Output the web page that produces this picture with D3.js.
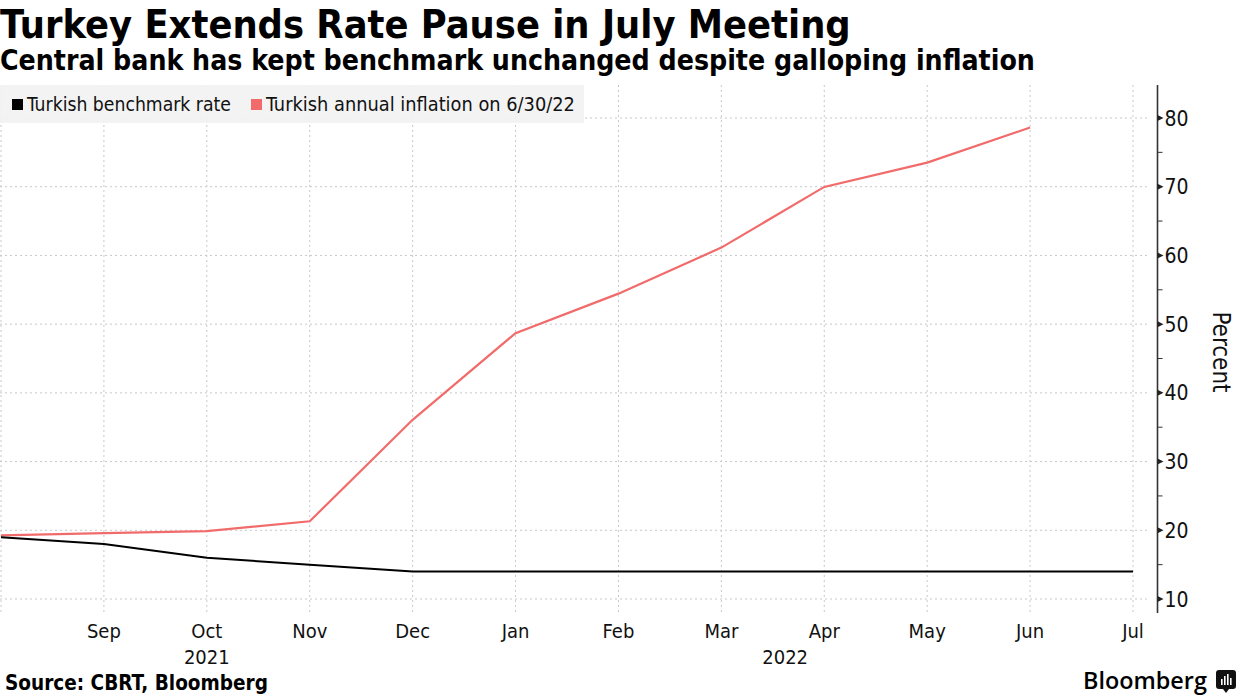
<!DOCTYPE html>
<html><head><meta charset="utf-8">
<script src="https://cdn.jsdelivr.net/npm/d3@7"></script>
<style>
body{margin:0;background:#fff;}
svg{display:block;}
text{font-family:"DejaVu Sans Condensed","DejaVu Sans",sans-serif;}
</style></head>
<body>
<svg id="chart" width="1240" height="697"></svg>
<script>
const months = ["2021-08","2021-09","2021-10","2021-11","2021-12","2022-01","2022-02","2022-03","2022-04","2022-05","2022-06","2022-07"];
const monthLabels = ["","Sep","Oct","Nov","Dec","Jan","Feb","Mar","Apr","May","Jun","Jul"];
const benchmarkRate = [19,18,16,15,14,14,14,14,14,14,14,14];
const inflation = [19.25,19.58,19.89,21.31,36.08,48.69,54.44,61.14,69.97,73.5,78.62,null];
const yTicks = [10,20,30,40,50,60,70,80];
const yMinorTicks = [15,25,35,45,55,65,75];
const yearLabels = [{label:"2021", at:"2021-10"},{label:"2022", at:"2022-03", shift:0.62}];

const svg = d3.select("#chart");
const x = d3.scalePoint().domain(months).range([1,1133]);
const y = d3.scaleLinear().domain([10,80]).range([599,118]);
const plotTop = 85, plotBottom = 613, plotRight = 1150, axisX = 1157.5;

function fit(sel, w){
  const n = sel.node(); const fs = parseFloat(sel.attr("font-size"));
  const l = n.getComputedTextLength(); sel.attr("font-size", fs*w/l);
  return sel;
}

// title
fit(svg.append("text").attr("x",0).attr("y",38).attr("font-size",36).attr("font-weight","bold").attr("fill","#000")
  .text("Turkey Extends Rate Pause in July Meeting"), 851);
fit(svg.append("text").attr("x",0).attr("y",70).attr("font-size",24).attr("font-weight","bold").attr("fill","#000")
  .text("Central bank has kept benchmark unchanged despite galloping inflation"), 1035);

// grid
const g = svg.append("g");
g.selectAll("line.h").data(yTicks).join("line")
  .attr("x1",0).attr("x2",plotRight).attr("y1",d=>y(d)).attr("y2",d=>y(d))
  .attr("stroke","#c8c8c8").attr("stroke-width",1).attr("stroke-dasharray","2,3");
g.selectAll("line.v").data(months).join("line")
  .attr("x1",d=>x(d)).attr("x2",d=>x(d)).attr("y1",plotTop).attr("y2",plotBottom)
  .attr("stroke","#c8c8c8").attr("stroke-width",1).attr("stroke-dasharray","2,3");

// legend
svg.append("rect").attr("x",0).attr("y",85).attr("width",584).attr("height",38).attr("fill","#f2f2f2").attr("opacity",0.92);
svg.append("rect").attr("x",12).attr("y",99).attr("width",11).attr("height",11).attr("fill","#000");
fit(svg.append("text").attr("x",27).attr("y",111).attr("font-size",18).attr("fill","#111").text("Turkish benchmark rate"),204);
svg.append("rect").attr("x",251).attr("y",99).attr("width",11).attr("height",11).attr("fill","#f26b6b");
fit(svg.append("text").attr("x",266).attr("y",111).attr("font-size",18).attr("fill","#111").text("Turkish annual inflation on 6/30/22"),309);

// lines
const line = d3.line().defined(d=>d[1]!=null).x(d=>x(d[0])).y(d=>y(d[1]));
svg.append("path").datum(months.map((m,i)=>[m,inflation[i]]))
  .attr("d",line).attr("fill","none").attr("stroke","#f26b6b").attr("stroke-width",2.2);
svg.append("path").datum(months.map((m,i)=>[m,benchmarkRate[i]]))
  .attr("d",line).attr("fill","none").attr("stroke","#000").attr("stroke-width",2);

// y axis
const ya = svg.append("g").attr("transform",`translate(${axisX},0)`);
ya.append("line").attr("x1",0).attr("x2",0).attr("y1",plotTop).attr("y2",plotBottom).attr("stroke","#333").attr("stroke-width",1.6);
ya.selectAll("path.tk").data(yTicks).join("path")
  .attr("d",d=>`M0,${y(d)-3}L6,${y(d)}L0,${y(d)+3}Z`).attr("fill","#222");
ya.selectAll("line.mn").data(yMinorTicks).join("line")
  .attr("x1",0).attr("x2",5).attr("y1",d=>y(d)).attr("y2",d=>y(d)).attr("stroke","#333").attr("stroke-width",1);
ya.selectAll("text").data(yTicks).join("text")
  .attr("x",7).attr("y",d=>y(d)).attr("dy","0.36em").attr("font-size",21).attr("fill","#111").text(d=>d);
svg.append("text").attr("transform","translate(1213,352) rotate(90)").attr("text-anchor","middle")
  .attr("font-size",24).attr("fill","#111").text("Percent");

// x axis labels
svg.selectAll("text.xl").data(months).join("text").attr("class","xl")
  .attr("x",d=>x(d)).attr("y",638).attr("text-anchor","middle").attr("font-size",20).attr("fill","#111")
  .text((d,i)=>monthLabels[i]);
svg.selectAll("text.yr").data(yearLabels).join("text").attr("class","yr")
  .attr("x",d=>x(d.at)+(d.shift||0)*x.step()).attr("y",664).attr("text-anchor","middle").attr("font-size",20).attr("fill","#111")
  .text(d=>d.label);

// source
fit(svg.append("text").attr("x",5).attr("y",690).attr("font-size",18).attr("font-weight","bold").attr("fill","#000")
  .text("Source: CBRT, Bloomberg"), 263);

// Bloomberg logo
const bt = svg.append("text").attr("x",1083).attr("y",689).attr("font-size",24).attr("font-weight",600)
  .attr("fill","#000").style("font-family","'Open Sans','DejaVu Sans',sans-serif").text("Bloomberg");
fit(bt,124);
const lg = svg.append("g").attr("transform","translate(1216,670)");
lg.append("rect").attr("width",20).attr("height",19).attr("rx",3).attr("fill","#111");
lg.append("path").attr("d","M7,19L10,23L13,19Z").attr("fill","#111");
[[5,9],[8,6],[11,4],[14,8]].forEach(([bx,by])=>lg.append("rect").attr("x",bx).attr("y",by).attr("width",1.6).attr("height",15-by).attr("fill","#fff"));
</script>
</body></html>
